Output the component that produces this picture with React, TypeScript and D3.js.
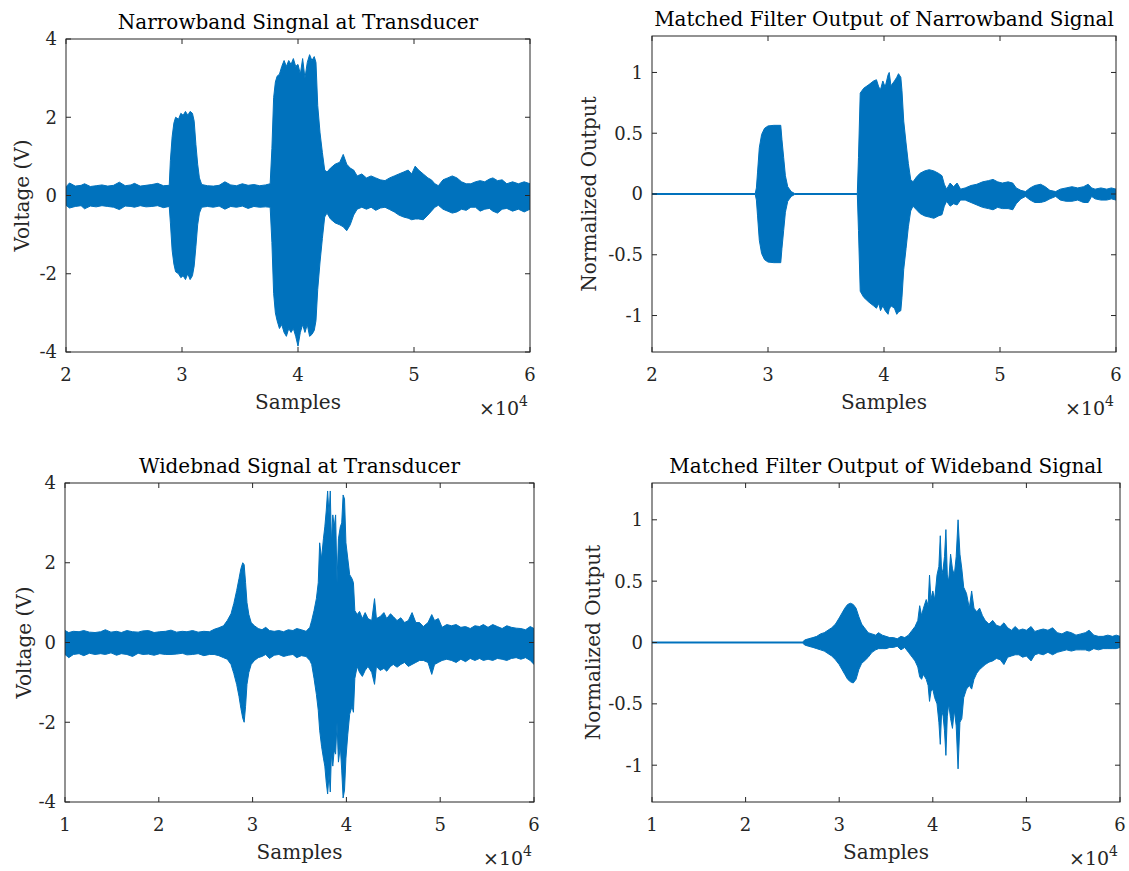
import React from "react";
import * as d3 from "d3";

// ---------- DATA (envelopes: [sample, upper, lower]) ----------
const nbTransducer: [number, number, number][] = [
  [20000, 0.22, -0.25], [20300, 0.32, -0.32], [20800, 0.24, -0.28], [21300, 0.26, -0.26], [21600, 0.3, -0.34],
  [22100, 0.23, -0.27], [22600, 0.25, -0.29], [23100, 0.27, -0.26], [23600, 0.24, -0.28], [24100, 0.26, -0.3],
  [24600, 0.34, -0.36], [25100, 0.25, -0.27], [25600, 0.27, -0.28], [25900, 0.31, -0.3], [26400, 0.24, -0.26],
  [26900, 0.26, -0.29], [27400, 0.28, -0.28], [27900, 0.31, -0.26], [28400, 0.25, -0.31], [28900, 0.26, -0.28],
  [29000, 0.9, -0.7], [29150, 1.5, -1.4], [29300, 1.85, -1.75], [29450, 2.0, -1.95], [29700, 1.95, -2.0],
  [29900, 2.1, -2.1], [30100, 2.05, -2.05], [30300, 2.15, -2.15], [30500, 2.05, -2.0], [30700, 2.15, -2.15],
  [30900, 2.1, -2.05], [31050, 1.9, -1.8], [31200, 1.3, -1.3], [31350, 0.8, -0.75], [31500, 0.45, -0.45],
  [31700, 0.28, -0.3], [32200, 0.25, -0.28], [32700, 0.24, -0.3], [33200, 0.26, -0.27], [33700, 0.35, -0.35],
  [34200, 0.27, -0.28], [34700, 0.25, -0.3], [35200, 0.3, -0.27], [35700, 0.26, -0.33], [36200, 0.28, -0.28],
  [36700, 0.25, -0.3], [37200, 0.27, -0.29], [37600, 0.3, -0.3],
  [37750, 1.2, -1.2], [37900, 2.5, -2.5], [38050, 2.9, -3.0], [38200, 3.05, -3.2], [38400, 3.1, -3.4],
  [38600, 3.3, -3.3], [38800, 3.45, -3.5], [39000, 3.3, -3.6], [39200, 3.45, -3.4], [39400, 3.35, -3.5],
  [39600, 3.5, -3.4], [39800, 3.3, -3.6], [40000, 3.35, -3.85], [40200, 3.1, -3.5], [40400, 3.5, -3.3],
  [40600, 3.0, -3.5], [40800, 3.4, -3.3], [41000, 3.6, -3.6], [41200, 3.45, -3.55], [41400, 3.55, -3.45],
  [41550, 3.4, -3.2], [41700, 2.3, -2.4], [41900, 1.6, -1.7], [42100, 1.1, -1.1], [42300, 0.65, -0.55],
  [42500, 0.6, -0.45], [42800, 0.7, -0.6], [43200, 0.8, -0.7], [43600, 0.85, -0.75], [43900, 1.05, -0.8],
  [44200, 0.8, -0.9], [44500, 0.7, -0.75], [44800, 0.65, -0.5], [45100, 0.5, -0.35], [45500, 0.55, -0.3],
  [45900, 0.45, -0.35], [46300, 0.5, -0.3], [46700, 0.45, -0.38], [47100, 0.4, -0.32], [47500, 0.38, -0.3],
  [47900, 0.45, -0.36], [48300, 0.5, -0.42], [48700, 0.55, -0.5], [49100, 0.6, -0.55], [49500, 0.65, -0.58],
  [49800, 0.55, -0.62], [50100, 0.75, -0.6], [50400, 0.65, -0.6], [50800, 0.55, -0.62], [51200, 0.45, -0.5],
  [51500, 0.4, -0.4], [51800, 0.3, -0.3], [52100, 0.25, -0.25], [52500, 0.4, -0.35], [52900, 0.45, -0.4],
  [53300, 0.5, -0.45], [53700, 0.45, -0.42], [54100, 0.35, -0.35], [54500, 0.3, -0.38], [54900, 0.3, -0.3],
  [55300, 0.35, -0.3], [55700, 0.38, -0.4], [56100, 0.35, -0.35], [56500, 0.42, -0.33], [56800, 0.45, -0.4],
  [57200, 0.38, -0.45], [57600, 0.4, -0.35], [58000, 0.3, -0.33], [58500, 0.35, -0.4], [59000, 0.3, -0.35],
  [59500, 0.35, -0.42], [60000, 0.3, -0.35],
];

const nbMatched: [number, number, number][] = [
  [20000, 0.004, -0.004], [28900, 0.004, -0.004], [29000, 0.05, -0.05], [29100, 0.18, -0.18], [29250, 0.38, -0.38],
  [29450, 0.49, -0.49], [29700, 0.54, -0.54], [30000, 0.56, -0.56], [30500, 0.565, -0.565], [31100, 0.565, -0.565],
  [31200, 0.45, -0.45], [31350, 0.3, -0.3], [31500, 0.15, -0.15], [31700, 0.06, -0.06], [32000, 0.02, -0.02],
  [32300, 0.004, -0.004], [37700, 0.004, -0.004], [37800, 0.3, -0.3], [37950, 0.83, -0.8], [38250, 0.87, -0.85],
  [38700, 0.9, -0.89], [39100, 0.93, -0.92], [39350, 0.94, -0.94], [39550, 0.88, -0.9], [39700, 0.86, -0.96],
  [39900, 0.93, -0.92], [40100, 0.88, -0.96], [40350, 0.98, -0.99], [40450, 1.0, -0.95], [40600, 0.89, -0.92],
  [40900, 0.93, -0.94], [41100, 0.96, -0.99], [41250, 0.99, -0.97], [41450, 0.96, -0.96], [41550, 0.85, -0.85],
  [41700, 0.6, -0.62], [41900, 0.42, -0.45], [42100, 0.25, -0.27], [42300, 0.12, -0.14], [42500, 0.1, -0.1],
  [42800, 0.14, -0.13], [43100, 0.17, -0.16], [43500, 0.19, -0.18], [43900, 0.2, -0.19], [44300, 0.19, -0.2],
  [44700, 0.17, -0.18], [45000, 0.15, -0.17], [45200, 0.08, -0.1], [45400, 0.04, -0.06], [45700, 0.09, -0.1],
  [46000, 0.06, -0.08], [46300, 0.09, -0.09], [46600, 0.04, -0.05], [47000, 0.05, -0.05], [47500, 0.07, -0.07],
  [48000, 0.08, -0.09], [48500, 0.1, -0.11], [49000, 0.11, -0.12], [49400, 0.12, -0.13], [49800, 0.1, -0.11],
  [50200, 0.09, -0.12], [50700, 0.1, -0.12], [51100, 0.09, -0.13], [51400, 0.05, -0.08], [51800, 0.03, -0.04],
  [52200, 0.02, -0.02], [52600, 0.05, -0.05], [53000, 0.07, -0.07], [53500, 0.08, -0.07], [53900, 0.06, -0.06],
  [54300, 0.03, -0.04], [54800, 0.02, -0.02], [55200, 0.04, -0.05], [55700, 0.05, -0.06], [56200, 0.06, -0.06],
  [56700, 0.05, -0.05], [57200, 0.06, -0.07], [57600, 0.08, -0.07], [57900, 0.05, -0.02], [58200, 0.04, -0.04],
  [58700, 0.05, -0.05], [59200, 0.04, -0.05], [59600, 0.05, -0.04], [60000, 0.04, -0.05],
];

const wbTransducer: [number, number, number][] = [
  [10000, 0.3, -0.3], [10400, 0.25, -0.38], [10900, 0.28, -0.3], [11500, 0.27, -0.28], [12000, 0.3, -0.33],
  [12600, 0.26, -0.27], [13200, 0.25, -0.3], [13800, 0.27, -0.28], [14300, 0.32, -0.3], [14900, 0.26, -0.26],
  [15500, 0.28, -0.32], [16000, 0.25, -0.28], [16600, 0.3, -0.3], [17200, 0.27, -0.35], [17800, 0.26, -0.27],
  [18300, 0.29, -0.3], [18900, 0.3, -0.29], [19500, 0.25, -0.32], [20100, 0.27, -0.28], [20700, 0.28, -0.3],
  [21300, 0.31, -0.3], [21900, 0.26, -0.29], [22500, 0.28, -0.27], [23000, 0.27, -0.31], [23600, 0.3, -0.3],
  [24200, 0.26, -0.28], [24800, 0.28, -0.33], [25400, 0.27, -0.3], [25900, 0.33, -0.3],
  [26400, 0.37, -0.33], [26900, 0.42, -0.38], [27300, 0.55, -0.42], [27700, 0.72, -0.55], [28000, 0.98, -0.78],
  [28300, 1.3, -1.05], [28550, 1.6, -1.35], [28750, 1.85, -1.65], [28950, 2.0, -1.9], [29100, 1.95, -2.0],
  [29250, 1.5, -1.6], [29400, 1.0, -1.05], [29600, 0.7, -0.75], [29850, 0.5, -0.55], [30200, 0.42, -0.45],
  [30600, 0.35, -0.38], [31000, 0.32, -0.35], [31400, 0.38, -0.3], [31800, 0.3, -0.4], [32300, 0.28, -0.32],
  [32800, 0.3, -0.3], [33300, 0.27, -0.35], [33800, 0.32, -0.32], [34300, 0.3, -0.3], [34700, 0.35, -0.38],
  [35200, 0.32, -0.33], [35700, 0.28, -0.35], [36100, 0.38, -0.45],
  [36300, 0.55, -0.55], [36550, 0.8, -0.9], [36800, 1.1, -1.3], [37000, 1.5, -1.7], [37150, 2.5, -2.2],
  [37350, 2.1, -2.6], [37550, 2.6, -2.9], [37700, 2.9, -3.1], [37850, 3.3, -3.5], [38000, 3.8, -3.8],
  [38150, 3.2, -3.3], [38280, 3.8, -3.75], [38400, 2.5, -2.8], [38550, 3.2, -3.1], [38700, 2.9, -2.7],
  [38850, 3.2, -2.8], [39000, 1.5, -2.0], [39150, 2.6, -3.0], [39350, 2.9, -2.6], [39500, 3.0, -3.2],
  [39650, 3.7, -3.9], [39800, 3.6, -3.7], [39950, 2.5, -2.9], [40150, 2.1, -2.3], [40350, 1.7, -1.8],
  [40600, 1.6, -1.6], [40750, 1.5, -1.75], [40900, 0.8, -0.9], [41150, 0.7, -0.6], [41400, 0.78, -0.75],
  [41700, 0.6, -0.85], [42000, 0.75, -0.7], [42300, 0.6, -0.6], [42700, 0.55, -0.75], [43000, 1.1, -1.05],
  [43200, 0.6, -0.6], [43600, 0.65, -0.7], [44000, 0.75, -0.65], [44300, 0.6, -0.72], [44700, 0.72, -0.6],
  [45000, 0.65, -0.55], [45400, 0.55, -0.62], [45800, 0.62, -0.55], [46200, 0.5, -0.5], [46600, 0.55, -0.6],
  [47000, 0.75, -0.55], [47400, 0.5, -0.5], [47800, 0.5, -0.45], [48200, 0.4, -0.45], [48700, 0.5, -0.5],
  [49100, 0.7, -0.8], [49400, 0.55, -0.55], [49800, 0.6, -0.5], [50200, 0.38, -0.45], [50700, 0.45, -0.42],
  [51200, 0.42, -0.45], [51700, 0.45, -0.5], [52200, 0.38, -0.42], [52700, 0.4, -0.48], [53200, 0.35, -0.4],
  [53700, 0.42, -0.45], [54200, 0.4, -0.4], [54600, 0.45, -0.45], [55100, 0.38, -0.42], [55600, 0.45, -0.45],
  [56100, 0.4, -0.4], [56600, 0.35, -0.42], [57100, 0.42, -0.45], [57600, 0.38, -0.4], [58100, 0.36, -0.38],
  [58600, 0.35, -0.42], [59100, 0.32, -0.38], [59600, 0.4, -0.45], [60000, 0.35, -0.55],
];

const wbMatched: [number, number, number][] = [
  [10000, 0.004, -0.004], [26100, 0.004, -0.004], [26300, 0.02, -0.02], [26700, 0.03, -0.03], [27200, 0.04, -0.04],
  [27600, 0.05, -0.05], [28000, 0.07, -0.06], [28400, 0.08, -0.07], [28800, 0.1, -0.09], [29200, 0.12, -0.11],
  [29600, 0.15, -0.14], [30000, 0.2, -0.18], [30300, 0.24, -0.22], [30600, 0.28, -0.26], [30900, 0.31, -0.3],
  [31200, 0.32, -0.32], [31500, 0.31, -0.33], [31800, 0.28, -0.3], [32100, 0.21, -0.22], [32400, 0.15, -0.17],
  [32700, 0.12, -0.15], [33100, 0.08, -0.12], [33500, 0.07, -0.08], [33900, 0.06, -0.06], [34200, 0.08, -0.05],
  [34600, 0.06, -0.05], [35000, 0.05, -0.05], [35400, 0.04, -0.04], [35800, 0.04, -0.04], [36200, 0.03, -0.03],
  [36600, 0.05, -0.06], [37000, 0.04, -0.04], [37400, 0.06, -0.08], [37800, 0.1, -0.12], [38100, 0.13, -0.15],
  [38400, 0.18, -0.2], [38600, 0.3, -0.28], [38800, 0.22, -0.3], [39000, 0.28, -0.26], [39300, 0.35, -0.3],
  [39500, 0.3, -0.35], [39650, 0.55, -0.48], [39800, 0.35, -0.4], [40000, 0.42, -0.38], [40200, 0.35, -0.45],
  [40450, 0.55, -0.5], [40650, 0.62, -0.65], [40800, 0.87, -0.83], [40950, 0.55, -0.55], [41100, 0.6, -0.6],
  [41250, 0.7, -0.72], [41400, 0.92, -0.92], [41550, 0.55, -0.6], [41700, 0.5, -0.5], [41900, 0.72, -0.62],
  [42100, 0.6, -0.7], [42300, 0.55, -0.55], [42500, 0.7, -0.68], [42700, 1.0, -1.03], [42900, 0.72, -0.65],
  [43100, 0.6, -0.62], [43300, 0.45, -0.45], [43600, 0.4, -0.38], [43900, 0.28, -0.35], [44150, 0.42, -0.38],
  [44400, 0.28, -0.3], [44700, 0.25, -0.25], [45000, 0.28, -0.22], [45300, 0.22, -0.2], [45600, 0.18, -0.18],
  [46000, 0.15, -0.16], [46400, 0.18, -0.15], [46800, 0.14, -0.13], [47200, 0.13, -0.14], [47600, 0.16, -0.18],
  [48000, 0.12, -0.12], [48400, 0.1, -0.11], [48800, 0.13, -0.1], [49200, 0.1, -0.1], [49600, 0.11, -0.12],
  [50000, 0.1, -0.11], [50500, 0.13, -0.15], [50900, 0.09, -0.1], [51300, 0.1, -0.09], [51800, 0.11, -0.1],
  [52300, 0.1, -0.08], [52800, 0.12, -0.1], [53300, 0.08, -0.08], [53800, 0.07, -0.07], [54300, 0.09, -0.06],
  [54800, 0.08, -0.07], [55300, 0.06, -0.06], [55800, 0.07, -0.06], [56300, 0.08, -0.06], [56700, 0.1, -0.07],
  [57200, 0.06, -0.05], [57700, 0.05, -0.06], [58200, 0.05, -0.05], [58700, 0.06, -0.05], [59200, 0.05, -0.05],
  [59600, 0.06, -0.05], [60000, 0.05, -0.04],
];

const xTicksTop = [20000, 30000, 40000, 50000, 60000];
const xTicksBottom = [10000, 20000, 30000, 40000, 50000, 60000];
const yTicksVolt = [-4, -2, 0, 2, 4];
const yTicksNorm = [-1, -0.5, 0, 0.5, 1];

const titles = [
  "Narrowband Singnal at Transducer",
  "Matched Filter Output of Narrowband Signal",
  "Widebnad Signal at Transducer",
  "Matched Filter Output of Wideband Signal",
];
const yLabels = ["Voltage (V)", "Normalized Output", "Voltage (V)", "Normalized Output"];
const xLabel = "Samples";

// ---------- LAYOUT ----------
const FONT = "'DejaVu Serif', serif";
const BLUE = "#0072BD";
const AX = "#262626";

type PanelSpec = {
  data: [number, number, number][];
  left: number; right: number; top: number; bottom: number;
  xDomain: [number, number]; yDomain: [number, number];
  xTicks: number[]; yTicks: number[];
  title: string; yLabel: string; yLabelX: number;
};

const panels: PanelSpec[] = [
  { data: nbTransducer, left: 66, right: 530, top: 39, bottom: 352, xDomain: [20000, 60000], yDomain: [-4, 4], xTicks: xTicksTop, yTicks: yTicksVolt, title: titles[0], yLabel: yLabels[0], yLabelX: 22 },
  { data: nbMatched, left: 652, right: 1116, top: 36, bottom: 352, xDomain: [20000, 60000], yDomain: [-1.3, 1.3], xTicks: xTicksTop, yTicks: yTicksNorm, title: titles[1], yLabel: yLabels[1], yLabelX: 589 },
  { data: wbTransducer, left: 65, right: 534, top: 483, bottom: 802, xDomain: [10000, 60000], yDomain: [-4, 4], xTicks: xTicksBottom, yTicks: yTicksVolt, title: titles[2], yLabel: yLabels[2], yLabelX: 24 },
  { data: wbMatched, left: 652, right: 1120, top: 483, bottom: 802, xDomain: [10000, 60000], yDomain: [-1.3, 1.3], xTicks: xTicksBottom, yTicks: yTicksNorm, title: titles[3], yLabel: yLabels[3], yLabelX: 593 },
];

function Panel({ p, idx }: { p: PanelSpec; idx: number }) {
  const x = d3.scaleLinear().domain(p.xDomain).range([p.left, p.right]);
  const y = d3.scaleLinear().domain(p.yDomain).range([p.bottom, p.top]);
  const area = d3
    .area<[number, number, number]>()
    .x((d) => x(d[0]))
    .y0((d) => y(d[2]))
    .y1((d) => y(d[1]));
  const tl = 5;
  const cx = (p.left + p.right) / 2;
  const cy = (p.top + p.bottom) / 2;
  const clipId = `clip${idx}`;
  return (
    <g>
      <defs>
        <clipPath id={clipId}>
          <rect x={p.left} y={p.top} width={p.right - p.left} height={p.bottom - p.top} />
        </clipPath>
      </defs>
      <rect x={p.left} y={p.top} width={p.right - p.left} height={p.bottom - p.top} fill="#fff" />
      <path d={area(p.data) || ""} fill={BLUE} stroke={BLUE} strokeWidth={1} strokeLinejoin="round" clipPath={`url(#${clipId})`} />
      {/* box */}
      <rect x={p.left} y={p.top} width={p.right - p.left} height={p.bottom - p.top} fill="none" stroke={AX} strokeWidth={1} />
      {/* x ticks */}
      {p.xTicks.map((t) => (
        <g key={"x" + t}>
          <line x1={x(t)} x2={x(t)} y1={p.bottom} y2={p.bottom - tl} stroke={AX} />
          <line x1={x(t)} x2={x(t)} y1={p.top} y2={p.top + tl} stroke={AX} />
          <text x={x(t)} y={p.bottom + 29} textAnchor="middle" fontSize={18} fill={AX} fontFamily={FONT}>
            {String(t / 10000)}
          </text>
        </g>
      ))}
      {/* y ticks */}
      {p.yTicks.map((t) => (
        <g key={"y" + t}>
          <line x1={p.left} x2={p.left + tl} y1={y(t)} y2={y(t)} stroke={AX} />
          <line x1={p.right} x2={p.right - tl} y1={y(t)} y2={y(t)} stroke={AX} />
          <text x={p.left - 9} y={y(t)} dy="0.36em" textAnchor="end" fontSize={18} fill={AX} fontFamily={FONT}>
            {String(t)}
          </text>
        </g>
      ))}
      <text x={cx} y={p.top - 10} textAnchor="middle" fontSize={20} fill="#000" fontFamily={FONT}>
        {p.title}
      </text>
      <text x={cx} y={p.bottom + 57} textAnchor="middle" fontSize={20} fill={AX} fontFamily={FONT}>
        {xLabel}
      </text>
      <text
        transform={`translate(${p.yLabelX},${cy}) rotate(-90)`}
        textAnchor="middle"
        dy="0.36em"
        fontSize={20}
        fill={AX}
        fontFamily={FONT}
      >
        {p.yLabel}
      </text>
      <text x={p.right - 2} y={p.bottom + 63} textAnchor="end" fontSize={19} fill={AX} fontFamily={FONT}>
        {"\u00d710"}
        <tspan fontSize={14} dy={-9}>4</tspan>
      </text>
    </g>
  );
}

export default function App() {
  return (
    <svg
      width={1129}
      height={871}
      viewBox="0 0 1129 871"
      style={{ position: "absolute", left: 0, top: 0, background: "#fff" }}
    >
      <rect x={0} y={0} width={1129} height={871} fill="#fff" />
      {panels.map((p, i) => (
        <Panel key={i} p={p} idx={i} />
      ))}
    </svg>
  );
}
